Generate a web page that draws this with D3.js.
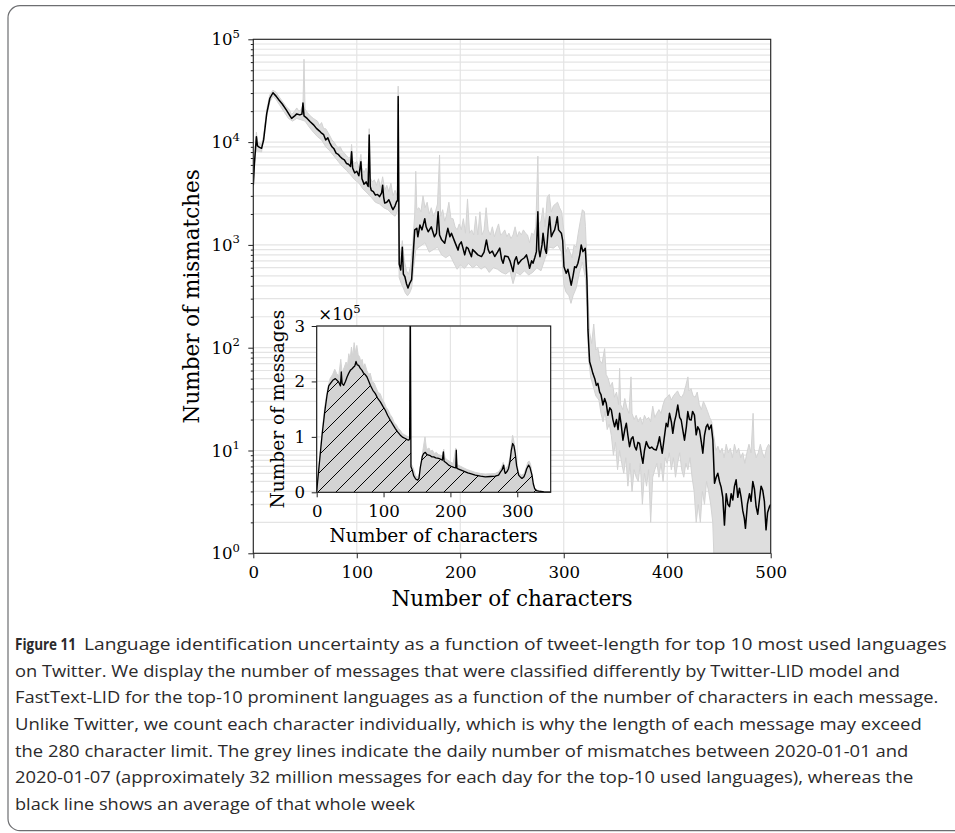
<!DOCTYPE html>
<html>
<head>
<meta charset="utf-8">
<script src="https://cdn.jsdelivr.net/npm/d3@7"></script>
<style>
  body { margin: 0; background: #fff; }
  svg { display: block; }
</style>
</head>
<body>
<svg id="fig" width="955" height="833"></svg>
<script>

// ---- data ----
// weekly average of mismatches, [characters, count]
var mainAvg = [[0,3800],[1,6000],[3,11300],[4,9200],[6,8900],[8,8700],[10,10500],[13,19000],[16,26700],[19,30200],
  [22,28000],[25,25500],[28,23500],[32,20500],[35,18300],[37,17000],[40,18000],[42,18800],[45,18400],[47,18700],
  [48,24000],[49,18000],[52,17000],[55,15800],[58,14800],[61,13600],[64,12800],[66,12200],[68,11800],[70,10500],
  [72,11000],[74,9800],[76,9000],[78,8600],[80,7800],[82,7600],[84,7200],[86,6900],[88,6700],[90,6200],
  [92,6100],[94,5800],[95,8070],[96,5600],[98,5000],[100,5200],[102,4700],[104,6450],[105,4400],[107,3900],
  [109,4100],[111,3700],[112,11700],[113,3700],[114,3400],[116,3300],[118,3050],[120,3100],[122,2950],[124,3200],
  [125,3800],[126,2900],[127,2550],[129,2600],[131,2750],[132,2600],[134,2300],[135,2200],[137,2400],[138.5,2650],
  [139.5,2700],[140,27700],[141,650],[142.5,570],[144,950],[145,520],[146.5,490],[148,420],[149.5,380],[151,420],
  [153,460],[154.5,800],[156,1400],[158,1450],[159,1200],[161,1560],[163,1400],[165.7,1800],[167,1500],[169,1340],
  [172,1500],[175,1200],[177,1300],[178.6,2100],[180,1250],[182,1120],[185,1040],[187,1300],[188,1450],[190,1200],
  [191.5,1300],[194.7,1070],[197.9,890],[199,1000],[201,1070],[203,900],[204.3,800],[206,950],[207.6,927],[209,850],
  [210.8,768],[212,900],[214,860],[217,800],[220.5,770],[223,850],[225.3,1117],[227,900],[228.5,830],[231,870],
  [233.3,770],[236,850],[238.2,930],[240,720],[241.4,663],[243,780],[246.2,768],[248,700],[251,550],[252.5,700],
  [254.2,768],[256,650],[259,713],[262,750],[264,800],[265.5,700],[267,592],[269,700],[270.3,663],[272,750],
  [273.6,860],[275,2100],[276,900],[277,768],[279,1000],[280,1300],[282,900],[283.2,828],[285,1400],[286.4,1880],
  [288,1200],[289.5,1300],[291.2,1400],[292.5,1600],[293.8,1880],[295,1400],[297.7,1300],[299,1100],[300.2,613],[302.4,530],
  [304,580],[305.6,490],[307.2,406],[309,500],[310.5,613],[312,600],[313.7,663],[315.5,800],[316.9,1000],[318.5,860],
  [320.8,927],[321.5,700],[322.4,456],[323,250],[323.4,149],[325,73],[326.5,65],[328.2,56],[330,50],[331.5,43],
  [333,45],[334.7,37],[336,35],[337.9,27.7],[339.5,32],[341.1,28.8],[342.7,22],[344.5,26],[346,24.8],[347.5,20],
  [349.2,17],[351,20],[352.5,16],[354,23],[355.5,18],[357.2,12.6],[359,16],[360.5,18.4],[362,14],[363.6,10.9],
  [365.3,13],[366.9,13.6],[368.5,11],[370.1,10.1],[371.7,12],[373.3,11.7],[375,9],[376.5,7.5],[378,10],[379.8,12.2],
  [381.5,11],[383,10.5],[385,10.8],[387,10.3],[389.4,10.1],[391,11.5],[392.6,13.6],[394,11],[395.2,9.4],[397,13],
  [399,18.4],[400.5,17],[402.2,23],[404,19],[405.4,14.7],[407,19],[408.5,22],[410.2,27.7],[412,21],[413.5,19.8],
  [415,16],[416.7,12.6],[418.5,17],[419.9,23.9],[421.5,20],[423.1,19.8],[424.5,24],[426.3,22.1],[428,14.2],[429.5,17],
  [431.2,15.8],[433,12],[434.4,9.4],[436,14],[437.6,17],[439,18],[440.5,16],[442.5,17.7],[444.1,12.6],[445.7,4.8],
  [447.3,5.5],[448.9,6],[450.5,5],[452.1,4.4],[453.7,3.5],[455.3,1.88],[457,3.8],[458.6,3],[460.2,2.84],[461.8,3.8],
  [463.4,3.3],[465,4.5],[466.6,5.2],[468.2,3.5],[469.8,4.3],[471.4,3.5],[473,2.6],[474.5,2.2],[475.6,1.75],[477.5,3],
  [479.5,3.8],[481,3.2],[482.7,5],[484.3,4.2],[485.9,2.84],[487.5,2.4],[489.1,3.3],[490.7,4.5],[492.3,4.1],[493.9,3.2],
  [495.5,1.69],[497,2.5],[498.8,2.84],[500,3]];

// highest daily value (grey lines, upper edge)
var dailyHigh = [[0,4000],[1,6500],[3,12500],[4,10000],[6,9800],[8,9500],[10,11500],[13,21000],[16,29000],[19,32000],
  [22,30500],[25,27500],[28,25000],[32,22000],[35,20500],[37,18500],[40,20000],[42,21500],[44,20000],[46,20500],
  [48,23000],[49,64000],[50,21000],[52,19500],[55,18000],[58,17000],[60,16500],[62,16000],[64,14500],[66,15500],
  [68,13500],[70,13500],[72,12500],[74,11500],[76,10500],[78,10000],[80,9300],[82,8800],[84,9000],[86,8200],
  [88,7800],[90,7400],[92,7000],[94,7200],[95,9500],[96,6600],[98,6200],[100,6500],[102,5600],[104,7600],
  [105,5600],[107,5000],[109,5600],[111,4600],[112,13500],[113,4500],[115,4100],[117,4300],[119,3800],[121,4400],
  [123,3600],[125,4600],[127,3400],[129,3800],[131,3300],[133,4000],[135,3000],[137,3400],[139,3000],[140,35000],
  [141,1000],[142.5,800],[144,1100],[146,700],[148,560],[150,520],[152,620],[154,1000],[156,2000],[157,5200],
  [158,2200],[160,2300],[162,2100],[164,3000],[166,2300],[168,2600],[170,2000],[172,2300],[174,1900],[176,2100],
  [178,2500],[180,7500],[181,1900],[183,2200],[185,1700],[187,2000],[189,2600],[191,1800],[193,1800],[195,1500],
  [197,1400],[199,1600],[201,1400],[203,1800],[205,1300],[207,2800],[209,1300],[211,1400],[213,1250],[215,1900],
  [217,1250],[219,2100],[221,1250],[223,1400],[225,2300],[227,1400],[229,1250],[231,1500],[233,1200],[235,1400],
  [237,1600],[239,1250],[241,1300],[243,1400],[245,1200],[247,1300],[249,1150],[251,1250],[253,1500],[255,1200],
  [257,1350],[259,1250],[261,1400],[263,1300],[265,1250],[267,1050],[269,1300],[271,1250],[273,1500],[275,7300],
  [276,1600],[278,1700],[280,2300],[282,1500],[284,2900],[286,3100],[288,2100],[290,2400],[292,2500],[294,2600],
  [296,2300],[298,2100],[300,1400],[302,850],[304,950],[306,850],[308,750],[310,1000],[312,950],[314,1300],
  [316,1700],[318,2200],[320,2100],[321,1500],[322.5,600],[323.5,300],[325,140],[327,110],[329,170],[331,95],
  [333,100],[335,75],[337,70],[339.5,98],[341,55],[343,50],[345,42],[347,46],[349,33],[351,37],
  [353,28],[354,63],[355,28],[357,25],[359,32],[361,26],[363,23],[365,52],[366,23],[368,20],
  [370,22],[372,19],[374,21],[376,18],[378,22],[380,20],[382,21],[384,19],[386,27],[388,21],
  [390,23],[392,25],[394,23],[396,28],[398,32],[400,33],[402,35],[404,31],[406,34],[408,36],
  [410,38],[412,34],[414,33],[416,36],[418,43],[420,52],[421,38],[423,40],[425,34],[427,33],
  [429,37],[431,28],[433,25],[435,30],[437,27],[439,24],[441,21],[443,19],[445,14],[447,10],
  [449,11],[451,9.5],[453,10.5],[455,8.5],[457,11.5],[459,9.5],[461,10.5],[463,8.5],[465,11.5],[467,9.5],
  [469,10.5],[471,8.5],[473,9.5],[475,7.5],[477,9.5],[479,11.5],[481,9.5],[483,23],[484,10.5],[486,8.5],
  [488,9.5],[490,11.5],[492,9.5],[494,8.5],[496,10.5],[498,11.5],[500,10.5]];

// lowest daily value (grey lines, lower edge)
var dailyLow = [[0,3600],[2,8000],[4,8200],[8,8000],[12,16500],[16,24500],[19,28000],[22,26000],[26,22500],[30,19500],
  [34,17000],[38,16000],[42,17000],[46,16500],[50,16000],[54,14000],[58,12500],[62,11300],[66,10500],[70,9000],
  [74,8200],[78,7300],[82,6500],[86,5800],[90,5300],[94,4800],[98,4300],[102,4000],[106,3500],[110,3200],
  [114,2900],[118,2600],[122,2500],[126,2300],[130,2200],[134,2000],[137,1900],[139,2100],[140,2200],[141,480],
  [143,420],[145,380],[147,340],[149,320],[151,340],[153,380],[155,600],[157,900],[160,950],[163,1000],
  [166,1050],[170,850],[174,900],[178,950],[182,800],[186,750],[190,800],[194,660],[197,580],[200,640],
  [204,590],[208,660],[212,600],[216,640],[220,580],[224,620],[228,540],[232,600],[236,580],[240,540],
  [244,520],[248,560],[251,420],[254,540],[258,510],[262,560],[266,510],[270,540],[274,600],[278,560],
  [282,740],[286,950],[290,930],[294,1000],[298,850],[300,420],[302,350],[305,320],[307,270],[309,320],
  [312,380],[315,530],[318,680],[321,470],[322.5,250],[324,80],[326,52],[328,44],[331,34],[334,31],
  [336,23],[338,19],[340,24],[342,16],[344,18],[346,14],[348,9],[350,12],[352,6.5],[354,10],
  [356,7.5],[358,6],[360,8.5],[362,4.5],[364,7.5],[366,4],[368,6.5],[370,5.5],[372,5],[374,7.5],
  [376,3],[378,6],[380,4.5],[382,6.5],[384,2],[386,5.5],[388,6.5],[390,7.5],[392,5.5],[394,7.5],
  [396,5],[398,8.5],[400,7.5],[402,9.5],[404,6.5],[406,8.5],[408,5.5],[410,7.5],[412,9.5],[414,6.5],
  [416,5.5],[418,7.5],[420,6.5],[422,8.5],[424,5.5],[426,4],[428,2],[430,3],[432,2],[434,4],
  [436,3],[438,5],[440,4],[442,3],[444,2],[446,0.5],[500,0.5]];

// inset: number of messages per length, weekly average
var msgAvg = [[0,2000],[3,40000],[8,103000],[12,145000],[15.4,175000],[18,192000],[20.4,196000],[24,202000],[27.9,205000],[32.9,199000],
  [35.5,192000],[36.8,217000],[38,196000],[40.4,193000],[43,200000],[45.4,208000],[48,215000],[50.3,220000],[53,223000],[55.3,226000],
  [57,228000],[58.8,236000],[60.5,230000],[62.8,229000],[65,224000],[67.8,220000],[70,215000],[72,213000],[75.2,208000],[78,200000],
  [80.2,193000],[84,184000],[87.7,178000],[91,170000],[95.2,163000],[99,155000],[102.6,148000],[106,139000],[110.1,130000],[114,122000],
  [117.6,115000],[121,109000],[125.1,103000],[129,99000],[132.5,97000],[135,95000],[137.5,94000],[139,96000],[140,360000],[141,46000],
  [143,40000],[145,30000],[148,24000],[151,22000],[153,25000],[155,45000],[158,65000],[160,70000],[162.5,72000],[165,68000],
  [167.5,67000],[170,66000],[172,64000],[175,64000],[178,62000],[182.4,61000],[185,60000],[188,58000],[189.5,73000],[190.5,56000],
  [194,53000],[197.4,49000],[201,47000],[205,45000],[208,44000],[208.8,76000],[209.8,43000],[214,41000],[218,39000],[222.3,37000],
  [226,35000],[230,33500],[237.2,31000],[245,29000],[252.2,28000],[260,28500],[267.1,29000],[272,31000],[275,37000],[277,40000],
  [279.6,49000],[281,38000],[282.1,34000],[285,38000],[287,43000],[289,55000],[291,75000],[293.1,88000],[295,84000],[297,70000],
  [299,48000],[302.1,31000],[305,27000],[307,25000],[310,28000],[312,34000],[314,42000],[317,49000],[319,45000],[322,31000],
  [324,15000],[326,6500],[329,3000],[332,2000],[340,800],[350,300]];

// inset: highest daily number of messages
var msgHigh = [[0,3000],[3,45000],[8,110000],[12,155000],[16,185000],[20,205000],[24,213000],[27,222000],[30,214000],[33,210000],
  [36,240000],[38,215000],[41,225000],[44,235000],[46,228000],[48,250000],[50,240000],[52,262000],[54,245000],[56,270000],
  [58,252000],[60,265000],[62,248000],[64,245000],[66,235000],[68,240000],[70,226000],[72,232000],[75,220000],[78,212000],
  [80,215000],[83,200000],[86,197000],[89,188000],[92,180000],[95,178000],[98,168000],[101,162000],[104,153000],[107,148000],
  [110,140000],[113,135000],[116,125000],[119,122000],[122,115000],[125,112000],[128,106000],[131,104000],[134,102000],[137,100000],
  [139,102000],[140,360000],[141,52000],[144,45000],[148,30000],[151,27000],[154,35000],[157,60000],[160,85000],[162,100000],
  [164,80000],[166,78000],[168,80000],[170,74000],[173,76000],[176,70000],[179,72000],[182,68000],[185,67000],[188,66000],
  [190,78000],[192,62000],[196,58000],[200,55000],[204,52000],[206,65000],[208,80000],[210,50000],[215,47000],[220,44000],
  [225,41000],[230,39000],[237,36000],[245,34000],[252,33000],[260,33500],[267,34000],[272,37000],[276,44000],[279,54000],
  [282,42000],[286,48000],[289,62000],[291,85000],[293,103000],[295,92000],[297,78000],[299,54000],[302,36000],[306,31000],
  [310,33000],[313,44000],[316,55000],[318,56000],[320,50000],[322,36000],[324,18000],[326,8000],[330,4000],[340,1200],[350,500]];

var mainXTicks = [0, 100, 200, 300, 400, 500];
var mainYExps = [0, 1, 2, 3, 4, 5];
var insetXTicks = [0, 100, 200, 300];
var insetYTicks = [0, 1, 2, 3];   // in units of 10^5

var xLabel = "Number of characters";
var yLabel = "Number of mismatches";
var insetYLabel = "Number of messages";

var figTag = "Figure 11";
var captionLines = [
  "Language identification uncertainty as a function of tweet-length for top 10 most used languages",
  "on Twitter. We display the number of messages that were classified differently by Twitter-LID model and",
  "FastText-LID for the top-10 prominent languages as a function of the number of characters in each message.",
  "Unlike Twitter, we count each character individually, which is why the length of each message may exceed",
  "the 280 character limit. The grey lines indicate the daily number of mismatches between 2020-01-01 and",
  "2020-01-07 (approximately 32 million messages for each day for the top-10 used languages), whereas the",
  "black line shows an average of that whole week"
];

// ---- layout ----
var serif = "'DejaVu Serif', serif";
var tickSize = 16.6, labelSize = 21.5, insetLabelSize = 18.6;
var main = { left: 253.3, right: 770.7, top: 39.3, bottom: 553.3 };
var inset = { left: 316.7, right: 550.7, top: 326, bottom: 492.3 };
var captionStart = [84, 15, 15, 15, 15, 15, 15];
var captionEnd = [946.7, 900, 938.3, 921.7, 908.3, 913.3, 415];
var grey = "#d3d3d3", bandFill = "#dedede", gridColor = "#e4e4e4";

var svg = d3.select("#fig");

var x = d3.scaleLinear().domain([0, 500]).range([main.left, main.right]);
var y = d3.scaleLog().domain([1, 1e5]).range([main.bottom, main.top]);
var xi = d3.scaleLinear().domain([0, 350]).range([inset.left, inset.right]);
var yi = d3.scaleLinear().domain([0, 3e5]).range([inset.bottom, inset.top]);

// frame round the figure
svg.append("rect")
    .attr("x", 8).attr("y", 5.7)
    .attr("width", 1000).attr("height", 825)
    .attr("rx", 12)
    .attr("fill", "none")
    .attr("stroke", "#6d6e71")
    .attr("stroke-width", 1.2);

var defs = svg.append("defs");
defs.append("clipPath").attr("id", "clipMain")
  .append("rect")
    .attr("x", main.left).attr("y", main.top)
    .attr("width", main.right - main.left).attr("height", main.bottom - main.top);
defs.append("clipPath").attr("id", "clipInset")
  .append("rect")
    .attr("x", inset.left).attr("y", inset.top)
    .attr("width", inset.right - inset.left).attr("height", inset.bottom - inset.top);
var hatch = defs.append("pattern")
    .attr("id", "hatch")
    .attr("patternUnits", "userSpaceOnUse")
    .attr("width", 18).attr("height", 18);
hatch.append("path")
    .attr("d", "M0,18 L18,0 M-4.5,4.5 L4.5,-4.5 M13.5,22.5 L22.5,13.5")
    .attr("stroke", "#000")
    .attr("stroke-width", 1);

// ---- main chart ----
var g = svg.append("g");

// grid
g.selectAll("line.hgrid")
    .data(y.ticks())
    .enter().append("line")
    .attr("class", "hgrid")
    .attr("x1", main.left).attr("x2", main.right)
    .attr("y1", function (d) { return y(d); })
    .attr("y2", function (d) { return y(d); })
    .attr("stroke", gridColor)
    .attr("stroke-width", 1.2);
g.selectAll("line.vgrid")
    .data(mainXTicks)
    .enter().append("line")
    .attr("class", "vgrid")
    .attr("x1", function (d) { return x(d); })
    .attr("x2", function (d) { return x(d); })
    .attr("y1", main.top).attr("y2", main.bottom)
    .attr("stroke", gridColor)
    .attr("stroke-width", 1.2);

var lineMain = d3.line()
    .x(function (d) { return x(d[0]); })
    .y(function (d) { return y(d[1]); });

var data = g.append("g").attr("clip-path", "url(#clipMain)");
// grey band of the seven daily lines
data.append("path")
    .attr("d", lineMain(dailyHigh.concat(dailyLow.slice().reverse())) + "Z")
    .attr("fill", bandFill)
    .attr("stroke", "none");
data.selectAll("path.edge")
    .data([dailyHigh, dailyLow])
    .enter().append("path")
    .attr("class", "edge")
    .attr("d", lineMain)
    .attr("fill", "none")
    .attr("stroke", grey)
    .attr("stroke-width", 1)
    .attr("stroke-linejoin", "round");
data.append("path")
    .attr("d", lineMain(mainAvg))
    .attr("fill", "none")
    .attr("stroke", "#000")
    .attr("stroke-width", 1.5)
    .attr("stroke-linejoin", "round");

// spines
g.append("rect")
    .attr("x", main.left).attr("y", main.top)
    .attr("width", main.right - main.left).attr("height", main.bottom - main.top)
    .attr("fill", "none")
    .attr("stroke", "#222")
    .attr("stroke-width", 1.1);

// x axis
var xAxis = g.append("g")
    .attr("transform", "translate(0," + main.bottom + ")")
    .call(d3.axisBottom(x).tickValues(mainXTicks).tickSize(5).tickPadding(7.6).tickFormat(d3.format("d")));
xAxis.select(".domain").remove();

// y axis, major and minor ticks
var yAxis = g.append("g")
    .attr("transform", "translate(" + main.left + ",0)")
    .call(d3.axisLeft(y).tickValues(mainYExps.map(function (e) { return Math.pow(10, e); })).tickSize(5).tickFormat(""));
yAxis.select(".domain").remove();
var minors = y.ticks().filter(function (d) { return Math.log10(d) % 1 !== 0; });
var yMinor = g.append("g")
    .attr("transform", "translate(" + main.left + ",0)")
    .call(d3.axisLeft(y).tickValues(minors).tickSize(2.5).tickFormat(""));
yMinor.select(".domain").remove();

var yLab = g.selectAll("text.ylab")
    .data(mainYExps)
    .enter().append("text")
    .attr("class", "ylab")
    .attr("x", main.left - 13.3)
    .attr("y", function (d) { return y(Math.pow(10, d)) + 6; })
    .attr("text-anchor", "end")
    .attr("font-family", serif)
    .attr("font-size", tickSize)
    .attr("fill", "#000");
yLab.append("tspan").text("10");
yLab.append("tspan")
    .attr("font-size", 11.6)
    .attr("dy", -7.5)
    .text(function (d) { return d; });

g.append("text")
    .attr("x", (main.left + main.right) / 2)
    .attr("y", 606)
    .attr("text-anchor", "middle")
    .attr("font-family", serif)
    .attr("font-size", labelSize)
    .text(xLabel);
g.append("text")
    .attr("transform", "translate(199," + (main.top + main.bottom) / 2 + ") rotate(-90)")
    .attr("text-anchor", "middle")
    .attr("font-family", serif)
    .attr("font-size", labelSize)
    .text(yLabel);

// ---- inset ----
var gi = svg.append("g");
gi.append("rect")
    .attr("x", inset.left).attr("y", inset.top)
    .attr("width", inset.right - inset.left).attr("height", inset.bottom - inset.top)
    .attr("fill", "#fff");

gi.selectAll("line.hgrid")
    .data(insetYTicks)
    .enter().append("line")
    .attr("x1", inset.left).attr("x2", inset.right)
    .attr("y1", function (d) { return yi(d * 1e5); })
    .attr("y2", function (d) { return yi(d * 1e5); })
    .attr("stroke", gridColor)
    .attr("stroke-width", 1.2);
gi.selectAll("line.vgrid")
    .data(insetXTicks)
    .enter().append("line")
    .attr("x1", function (d) { return xi(d); })
    .attr("x2", function (d) { return xi(d); })
    .attr("y1", inset.top).attr("y2", inset.bottom)
    .attr("stroke", gridColor)
    .attr("stroke-width", 1.2);

var areaInset = d3.area()
    .x(function (d) { return xi(d[0]); })
    .y0(yi(0))
    .y1(function (d) { return yi(d[1]); });
var lineInset = d3.line()
    .x(function (d) { return xi(d[0]); })
    .y(function (d) { return yi(d[1]); });

var di = gi.append("g").attr("clip-path", "url(#clipInset)");
di.append("path")
    .attr("d", areaInset(msgHigh))
    .attr("fill", grey)
    .attr("stroke", grey)
    .attr("stroke-width", 1);
di.append("path")
    .attr("d", areaInset(msgAvg))
    .attr("fill", "url(#hatch)");
di.append("path")
    .attr("d", lineInset(msgAvg))
    .attr("fill", "none")
    .attr("stroke", "#000")
    .attr("stroke-width", 1.3)
    .attr("stroke-linejoin", "round");

gi.append("rect")
    .attr("x", inset.left).attr("y", inset.top)
    .attr("width", inset.right - inset.left).attr("height", inset.bottom - inset.top)
    .attr("fill", "none")
    .attr("stroke", "#111")
    .attr("stroke-width", 1.1);

var xiAxis = gi.append("g")
    .attr("transform", "translate(0," + inset.bottom + ")")
    .call(d3.axisBottom(xi).tickValues(insetXTicks).tickSize(5).tickPadding(7.6).tickFormat(d3.format("d")));
xiAxis.select(".domain").remove();
var yiAxis = gi.append("g")
    .attr("transform", "translate(" + inset.left + ",0)")
    .call(d3.axisLeft(yi).tickValues(insetYTicks.map(function (d) { return d * 1e5; }))
      .tickSize(5).tickPadding(6.7).tickFormat(function (d) { return d / 1e5; }));
yiAxis.select(".domain").remove();

// every axis in the same serif face
svg.selectAll(".tick text")
    .attr("font-family", serif)
    .attr("font-size", tickSize)
    .attr("fill", "#000");
svg.selectAll(".tick line")
    .attr("stroke", "#222")
    .attr("stroke-width", 1);

var offset = gi.append("text")
    .attr("x", inset.left + 1.6)
    .attr("y", inset.top - 6)
    .attr("font-family", serif)
    .attr("font-size", tickSize);
offset.append("tspan").text("\u00d710");
offset.append("tspan").attr("font-size", 11.6).attr("dy", -7.5).text("5");

gi.append("text")
    .attr("x", (inset.left + inset.right) / 2)
    .attr("y", 541.7)
    .attr("text-anchor", "middle")
    .attr("font-family", serif)
    .attr("font-size", insetLabelSize)
    .text(xLabel);
gi.append("text")
    .attr("transform", "translate(283.6," + (inset.top + inset.bottom) / 2 + ") rotate(-90)")
    .attr("text-anchor", "middle")
    .attr("font-family", serif)
    .attr("font-size", insetLabelSize)
    .text(insetYLabel);

// ---- caption ----
var cap = svg.append("g")
    .attr("font-family", "'Open Sans', 'Noto Sans', sans-serif")
    .attr("font-size", 15.5)
    .attr("fill", "#2b2a2b");
cap.append("text")
    .attr("x", 15).attr("y", 650)
    .attr("font-weight", "bold")
    .attr("textLength", 61)
    .attr("lengthAdjust", "spacingAndGlyphs")
    .text(figTag);
cap.selectAll("text.line")
    .data(captionLines)
    .enter().append("text")
    .attr("class", "line")
    .attr("x", function (d, i) { return captionStart[i]; })
    .attr("y", function (d, i) { return 650 + i * 26.67; })
    .attr("textLength", function (d, i) { return captionEnd[i] - captionStart[i]; })
    .attr("lengthAdjust", "spacingAndGlyphs")
    .text(function (d) { return d; });

</script>
</body>
</html>
